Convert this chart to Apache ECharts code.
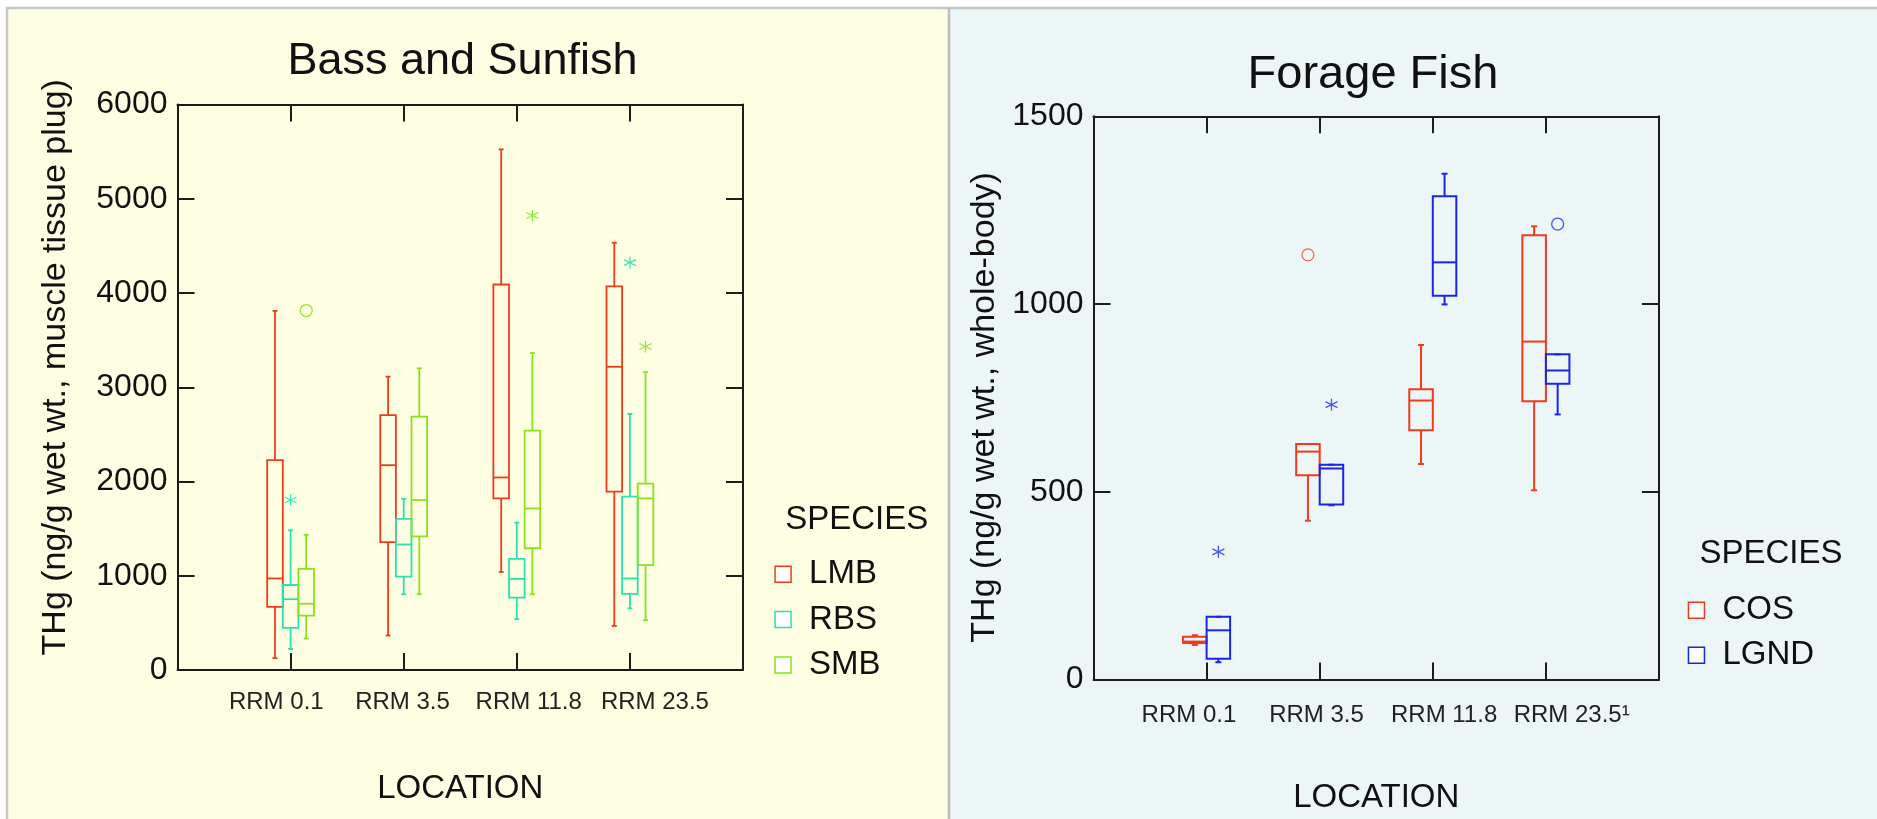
<!DOCTYPE html>
<html>
<head>
<meta charset="utf-8">
<script src="https://cdn.jsdelivr.net/npm/echarts@6/dist/echarts.min.js"></script>
<style>
html, body { margin: 0; padding: 0; background: #fff; }
#chart { width: 1877px; height: 819px; }
</style>
</head>
<body>
<div id="chart"></div>
<script>
// locations on the x axis
var bassLocations = ['RRM 0.1', 'RRM 3.5', 'RRM 11.8', 'RRM 23.5'];
var forageLocations = ['RRM 0.1', 'RRM 3.5', 'RRM 11.8', 'RRM 23.5\u00b9'];
// y tick labels
var bassTicks = [0, 1000, 2000, 3000, 4000, 5000, 6000];
var forageTicks = [0, 500, 1000, 1500];

var bassSpecies = ['LMB', 'RBS', 'SMB'];
var forageSpecies = ['COS', 'LGND'];

// box values per location: [min, q1, median, q3, max]
var lmb = [[126, 670, 971, 2226, 3810], [366, 1357, 2173, 2705, 3112], [1040, 1820, 2043, 4090, 5524], [467, 1893, 3217, 4070, 4533]];
var rbs = [[223, 447, 751, 902, 1483], [804, 991, 1332, 1604, 1816], [540, 768, 967, 1178, 1564], [654, 808, 971, 1840, 2717]];
var smb = [[333, 577, 703, 1072, 1434], [804, 1418, 1804, 2689, 3201], [804, 1292, 1714, 2539, 3363], [528, 1113, 1820, 1978, 3160]];
var cos = [[92, 97, 101, 114, 118], [423, 544, 607, 627, 627], [574, 664, 743, 773, 891], [504, 741, 900, 1183, 1207]];
var lgnd = [[46, 55, 131, 167, 167], [464, 466, 562, 572, 572], [999, 1022, 1111, 1287, 1347], [706, 788, 823, 866, 866]];

// outliers: [location index, value, marker]
var rbsOut = [[0, 1804, 'star'], [3, 4322, 'star']];
var smbOut = [[0, 3814, 'circle'], [2, 4822, 'star'], [3, 3432, 'star']];
var cosOut = [[1, 1131, 'circle']];
var lgndOut = [[0, 340, 'star'], [1, 732, 'star'], [3, 1213, 'circle']];

var RED = '#ee3b1e', TEAL = '#2be0b2', LIME = '#8be21c', BLUE = '#1b25e6';
var INK = '#1c1c1c';
var FONT = 'Liberation Sans, Arial, Helvetica, sans-serif';
var STAR = 'path://M0,-10L0,10M-8.66,-5L8.66,5M-8.66,5L8.66,-5';

function boxRenderer(offset, boxWidth, lw, capHalf) {
	return function (params, api) {
		var x = api.value(0) + offset;
		var lo = api.coord([x, api.value(1)]);
		var q1 = api.coord([x, api.value(2)]);
		var md = api.coord([x, api.value(3)]);
		var q3 = api.coord([x, api.value(4)]);
		var hi = api.coord([x, api.value(5)]);
		var half = api.size([boxWidth, 0])[0] / 2;
		var cx = md[0];
		var st = { stroke: api.visual('color'), lineWidth: lw, fill: null };
		return {
			type: 'group',
			children: [
				{ type: 'line', shape: { x1: cx, y1: q3[1], x2: cx, y2: hi[1] }, style: st },
				{ type: 'line', shape: { x1: cx, y1: q1[1], x2: cx, y2: lo[1] }, style: st },
				{ type: 'line', shape: { x1: cx - capHalf, y1: hi[1], x2: cx + capHalf, y2: hi[1] }, style: st },
				{ type: 'line', shape: { x1: cx - capHalf, y1: lo[1], x2: cx + capHalf, y2: lo[1] }, style: st },
				{ type: 'rect', shape: { x: cx - half, y: q3[1], width: half * 2, height: q1[1] - q3[1] }, style: st },
				{ type: 'line', shape: { x1: cx - half, y1: md[1], x2: cx + half, y2: md[1] }, style: st }
			]
		};
	};
}

function boxSeries(name, rows, color, grid, offset, width, lw, cap) {
	return {
		name: name,
		type: 'custom',
		xAxisIndex: grid * 2,
		yAxisIndex: grid * 2,
		itemStyle: { color: color },
		renderItem: boxRenderer(offset, width, lw, cap),
		data: rows.map(function (r, i) { return [i + 1].concat(r); }),
		z: 3
	};
}

function outlierSeries(name, rows, color, grid, offset) {
	return {
		name: name,
		type: 'scatter',
		xAxisIndex: grid * 2,
		yAxisIndex: grid * 2,
		symbolSize: 12,
		itemStyle: { color: 'rgba(0,0,0,0)', borderColor: color, borderWidth: 1.3, opacity: 1 },
		data: rows.map(function (r) {
			return { value: [r[0] + 1 + offset, r[1]], symbol: r[2] === 'star' ? STAR : 'circle' };
		}),
		z: 4
	};
}

function frameX(grid, pos, name, gap) {
	return {
		type: 'value', gridIndex: grid, position: pos, min: 0, max: 5, interval: 1,
		axisLine: { show: true, onZero: false, lineStyle: { color: INK, width: 2 } },
		axisTick: { show: true, inside: true, length: 17, lineStyle: { color: INK, width: 2 } },
		axisLabel: { show: false },
		splitLine: { show: false },
		name: name || '', nameLocation: 'middle', nameGap: gap || 0,
		nameTextStyle: { fontSize: 33, color: '#111', fontFamily: FONT }
	};
}

function frameY(grid, pos, ticks, name, gap, namePad) {
	return {
		type: 'value', gridIndex: grid, position: pos,
		min: ticks[0], max: ticks[ticks.length - 1], interval: ticks[1] - ticks[0],
		axisLine: { show: true, onZero: false, lineStyle: { color: INK, width: 2 } },
		axisTick: { show: true, inside: true, length: 17, lineStyle: { color: INK, width: 2 } },
		axisLabel: {
			show: pos === 'left', fontSize: 32, color: '#111', margin: 10, padding: [11, 0, 0, 0], fontFamily: FONT,
			formatter: function (v) { return String(v); }
		},
		splitLine: { show: false },
		name: name || '', nameLocation: 'middle', nameRotate: 90, nameGap: gap || 0,
		nameTextStyle: { fontSize: 34, color: '#111', fontFamily: FONT, padding: namePad || 0 }
	};
}

function labelAxis(grid, cats, margin) {
	return {
		type: 'category', gridIndex: grid, data: cats, position: 'bottom',
		axisLine: { show: false }, axisTick: { show: false },
		axisLabel: { interval: 0, fontSize: 24, color: '#222', margin: margin, fontFamily: FONT }
	};
}

function legendFor(names, colors, left, top, gap) {
	return {
		orient: 'vertical', left: left, top: top, padding: 0,
		itemWidth: 16, itemHeight: 16, itemGap: gap, icon: 'rect', selectedMode: false,
		textStyle: { fontSize: 33, color: '#111', lineHeight: 16, padding: [11, 0, 0, 13], fontFamily: FONT },
		data: names.map(function (n, i) {
			return { name: n, itemStyle: { color: '#ffffff', borderColor: colors[i], borderWidth: 1.5 } };
		})
	};
}

var chart = echarts.init(document.getElementById('chart'));
chart.setOption({
	animation: false,
	backgroundColor: '#ffffff',
	textStyle: { fontFamily: FONT },
	graphic: [
		{ type: 'rect', z: -10, silent: true, shape: { x: 7, y: 8, width: 942, height: 811 }, style: { fill: '#fefee2' } },
		{ type: 'rect', z: -10, silent: true, shape: { x: 949, y: 8, width: 928, height: 811 }, style: { fill: '#edf6f6' } },
		{ type: 'polyline', z: -9, silent: true, shape: { points: [[7, 819], [7, 8], [1877, 8]] }, style: { stroke: '#c6c6c6', lineWidth: 2.5, fill: null } },
		{ type: 'line', z: -9, silent: true, shape: { x1: 949, y1: 8, x2: 949, y2: 819 }, style: { stroke: '#bdbdbd', lineWidth: 2.5 } }
	],
	title: [
		{ text: 'Bass and Sunfish', left: 462.5, top: 39, textAlign: 'center', padding: 0, textStyle: { fontSize: 45, fontWeight: 'normal', color: '#111', fontFamily: FONT } },
		{ text: 'Forage Fish', left: 1373, top: 52, textAlign: 'center', padding: 0, textStyle: { fontSize: 47, fontWeight: 'normal', color: '#111', fontFamily: FONT } },
		{ text: 'SPECIES', left: 856.7, top: 503.7, textAlign: 'center', padding: 0, textStyle: { fontSize: 33, fontWeight: 'normal', color: '#111', fontFamily: FONT } },
		{ text: 'SPECIES', left: 1771, top: 537.4, textAlign: 'center', padding: 0, textStyle: { fontSize: 33, fontWeight: 'normal', color: '#111', fontFamily: FONT } }
	],
	legend: [
		legendFor(bassSpecies, [RED, TEAL, LIME], 774.3, 557.8, 12.3),
		legendFor(forageSpecies, [RED, BLUE], 1687.7, 593.8, 12)
	],
	grid: [
		{ left: 177.5, top: 104.5, width: 565.5, height: 565.5 },
		{ left: 1093.5, top: 116.3, width: 565.5, height: 565.7 },
		{ left: 213.2, top: 104.5, width: 504.8, height: 565.5 },
		{ left: 1125.1, top: 116.3, width: 510.4, height: 565.7 }
	],
	xAxis: [
		frameX(0, 'bottom', 'LOCATION', 102.4),
		frameX(0, 'top'),
		frameX(1, 'bottom', 'LOCATION', 101.5),
		frameX(1, 'top'),
		labelAxis(2, bassLocations, 20.2),
		labelAxis(3, forageLocations, 21.1)
	],
	yAxis: [
		frameY(0, 'left', bassTicks, 'THg (ng/g wet wt., muscle tissue plug)', 104.5, [0, 0, 0, 40]),
		frameY(0, 'right', bassTicks),
		frameY(1, 'left', forageTicks, 'THg (ng/g wet wt., whole-body)', 91.6, [0, 19, 0, 0]),
		frameY(1, 'right', forageTicks),
		{ type: 'value', gridIndex: 2, show: false },
		{ type: 'value', gridIndex: 3, show: false }
	],
	series: [
		boxSeries('LMB', lmb, RED, 0, -0.138, 0.138, 1.8, 2.5),
		boxSeries('RBS', rbs, TEAL, 0, 0, 0.138, 1.8, 2.5),
		boxSeries('SMB', smb, LIME, 0, 0.138, 0.138, 1.8, 2.5),
		boxSeries('COS', cos, RED, 1, -0.104, 0.208, 2, 3),
		boxSeries('LGND', lgnd, BLUE, 1, 0.104, 0.208, 2, 3),
		outlierSeries('RBS outliers', rbsOut, '#3ee6bc', 0, 0),
		outlierSeries('SMB outliers', smbOut, '#96e43a', 0, 0.138),
		outlierSeries('COS outliers', cosOut, '#f0664e', 1, -0.104),
		outlierSeries('LGND outliers', lgndOut, '#4b55ee', 1, 0.104)
	]
});
</script>
</body>
</html>
